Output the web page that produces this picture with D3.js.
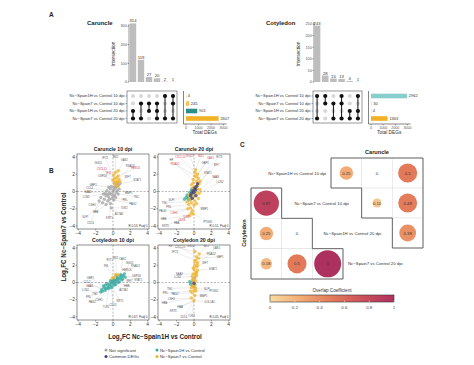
<!DOCTYPE html>
<html><head><meta charset="utf-8">
<script src="https://cdn.jsdelivr.net/npm/d3@7"></script>
<style>body{margin:0;background:#fff}svg{display:block;font-family:"Liberation Sans",Arial,sans-serif}</style>
</head><body><svg id="c" width="474" height="365"></svg>
<script>
// ================= DATA =================
const setNames = ["Nc\u2212Spain1H vs Control 10 dpi","Nc\u2212Spain7 vs Control 10 dpi","Nc\u2212Spain1H vs Control 20 dpi","Nc\u2212Spain7 vs Control 20 dpi"];
// Panel A – UpSet
const caruncleIntersections = [314,119,27,20,2,1];
const caruncleMembership = [[0,0,1,1],[0,1,0,1],[0,1,1,0],[0,1,1,1],[1,0,0,1],[1,1,0,1]];
const caruncleTotals = [4,245,901,2607];
const cotyledonIntersections = [243,28,15,13,4,1];
const cotyledonMembership = [[1,0,0,1],[1,1,0,0],[0,1,0,1],[1,1,0,1],[0,0,1,1],[1,0,1,1]];
const cotyledonTotals = [2962,30,4,1363];
const caruncleIntersectTicks = [0,100,200,300];
const cotyledonIntersectTicks = [0,50,100,150,200,250];
const degTicks = [0,1000,2000,3000];
// Panel B – scatter (x = log2FC Spain1H, y = log2FC Spain7, cat: 0 ns, 1 Spain1H, 2 common, 3 Spain7)
const scatterTitles = ["Caruncle 10 dpi","Caruncle 20 dpi","Cotyledon 10 dpi","Cotyledon 20 dpi"];
const scatterStats = ["R 0.53, Padj 0","R 0.51, Padj 0","R 0.67, Padj 0","R 0.45, Padj 0"];
const axisTicks = [-4,-2,0,2,4];
const car10Points = [
 [-0.2,-0.3,0],[0.1,0.2,0],[-0.5,-0.6,0],[0.3,0.4,0],[-0.8,-0.5,0],[0.5,0.1,0],[-0.3,0.3,0],[0.2,-0.4,0],[-1.0,-0.9,0],[0.6,0.7,0],
 [-0.6,-1.1,0],[0,0,0],[-0.4,-0.2,0],[0.4,0.6,0],[-0.1,-0.8,0],[0.2,0.9,0],[-0.9,-0.2,0],[0.7,0.3,0],[-1.2,-1.3,0],[-0.3,-1.4,0],
 [0.1,-1.0,0],[-0.7,0.1,0],[0.4,-0.1,0],[-0.2,0.6,0],[-1.4,-0.7,0],[0.8,0.9,0],[-0.5,0.5,0],[0.0,-0.5,0],[-0.8,-1.5,0],[0.3,-0.7,0],
 [-1.1,-0.3,0],[0.5,1.0,0],[-0.2,-1.9,0],[0.6,-0.3,0],[-1.6,-1.1,0],[-0.6,-0.3,0],[0.1,0.5,0],[-0.4,-0.9,0],
 [0.3,0.8,3],[0.5,1.2,3],[0.2,1.5,3],[0.6,1.8,3],[0.4,1.0,3],[0.1,1.9,3],[0.7,1.4,3],[0.3,2.2,3],[0.5,0.6,3],[0.2,1.1,3],
 [0.8,1.1,3],[0.4,1.6,3],[0.0,1.3,3],[0.6,2.4,3]];
const car20Points = [
 [0.2,2.5,3],[0.4,2.0,3],[0.1,1.8,3],[0.5,1.5,3],[0.3,1.2,3],[-0.1,1.0,3],[0.6,0.9,3],[0.2,0.6,3],[-0.2,0.4,3],[0.4,0.3,3],
 [0.0,0.1,3],[-0.4,-0.2,3],[0.3,-0.4,3],[-0.1,-0.7,3],[-0.5,-0.9,3],[0.1,-1.1,3],[-0.3,-1.3,3],[-0.6,-1.5,3],[0.0,-1.6,3],[-0.4,-1.9,3],
 [-0.2,-2.2,3],[-0.7,-2.0,3],[-0.1,-2.6,3],[-0.5,-2.8,3],[0.5,-0.8,3],[0.7,0.2,3],[0.6,-0.2,3],[-0.3,0.8,3],[0.3,1.7,3],[-0.8,-1.2,3],
 [0.2,-0.1,3],[-0.2,-0.4,3],[0.4,0.7,3],[0.7,1.2,3],[-0.6,-0.5,3],[0.1,2.2,3],[-0.3,-2.5,3],[0.3,-1.4,3],[0.5,1.0,3],[-0.1,1.4,3],
 [-0.6,-0.5,1],[-0.4,-0.3,1],[-0.7,-0.8,1],[-0.3,-0.6,1],[-0.5,-0.1,1],[-0.2,0.0,1],[-0.8,-0.4,1],[-0.4,-0.9,1],[-0.1,-0.3,1],[-0.6,-1.0,1],
 [-0.9,-0.7,1],[0.0,0.3,1],[-0.3,0.2,1],[-1.1,-0.9,1],
 [-0.3,-0.2,2],[-0.1,0.1,2],[0.1,0.4,2],[-0.4,-0.5,2],[0.2,0.2,2],[0.0,-0.1,2],[0.3,0.6,2],[-0.2,-0.8,2],[0.2,-0.5,2],[0.4,0.9,2],
 [0.1,0.0,0],[-0.1,-0.2,0],[0.2,0.3,0],[0.0,0.5,0],[-0.2,0.2,0]];
const cot10Points = [
 [-1.3,-0.8,1],[-1.0,-0.6,1],[-0.8,-0.7,1],[-0.6,-0.3,1],[-0.4,-0.4,1],[-0.2,-0.1,1],[0,0,1],[0.2,0.1,1],[0.4,0.3,1],[0.6,0.4,1],
 [0.8,0.5,1],[1.0,0.7,1],[1.2,0.8,1],[-1.1,-0.4,1],[-0.7,-0.1,1],[-0.3,0.2,1],[0.1,0.4,1],[0.5,0.6,1],[0.9,0.9,1],[1.3,1.0,1],
 [-0.9,-0.9,1],[-0.5,-0.7,1],[-0.1,-0.4,1],[0.3,-0.2,1],[0.7,0.1,1],[1.1,0.4,1],[-1.4,-1.1,1],[0.0,0.3,1],[0.4,0.8,1],[-0.6,-0.6,1],
 [0.6,0.0,1],[-0.2,-0.6,1],[0.8,0.8,1],[1.4,0.6,1],[-0.9,-0.3,1],[0.2,-0.3,1],[1.0,0.3,1],[-1.2,-1.0,1],
 [0.1,0.6,3],[0.3,0.9,3],[-0.1,0.5,3],[0.6,0.9,3],
 [-0.2,0.1,0],[0.1,-0.1,0],[0.3,0.2,0],[-0.4,-0.2,0],[0.5,0.4,0],[0,0.2,0]];
const cot20Points = [
 [0.3,3.0,3],[0.2,2.6,3],[0.4,2.3,3],[0.1,2.0,3],[0.3,1.8,3],[0.0,1.5,3],[0.2,1.2,3],[-0.1,1.0,3],[0.3,0.8,3],[0.0,0.5,3],
 [-0.2,0.3,3],[0.2,0.2,3],[-0.1,-0.1,3],[0.1,-0.4,3],[-0.3,-0.6,3],[0.0,-0.9,3],[-0.2,-1.2,3],[0.1,-1.5,3],[-0.3,-1.8,3],[0.0,-2.1,3],
 [0.4,1.4,3],[-0.2,0.7,3],[0.5,2.8,3],[0.2,-0.7,3],[-0.4,-1.0,3],[0.6,3.3,3],[0.1,3.6,3],[0.3,1.1,3],[-0.1,1.7,3],[0.2,-1.0,3],
 [0.1,2.4,3],[0.4,2.0,3],[-0.2,-0.4,3],[0.2,0.9,3],
 [0.0,0.1,0],[-0.1,0.3,0],[0.1,-0.2,0],[-0.2,-0.3,0],[0.1,0.6,0],[0.0,-0.5,0],[-0.3,0.0,0],
 [-0.4,-0.2,1],[-0.5,0.1,1],[0.0,-0.1,2]];
// labelled genes: [labelX, labelY, geneX, geneY, name, highlighted]
const car10Labels = [
 [-0.9,3.9,0.1,1.6,"IFIT1",0],[0.3,4.0,0.3,2.2,"MX2",0],[1.3,3.6,0.6,2.4,"OAS2",0],[-1.7,3.3,0.0,1.3,"ISG15",0],
 [2.0,3.0,0.7,1.4,"RSAD2",0],[-1.3,2.6,0.2,1.5,"CXCL10",1],[-0.5,2.1,0.1,1.9,"IFI6",1],[2.6,2.7,0.6,1.8,"HERC6",1],
 [-1.2,1.8,0.0,1.3,"USP18",0],[1.7,1.7,0.8,1.1,"IRF7",0],[2.8,1.3,0.8,0.9,"STAT1",0],[-2.3,0.8,-0.5,0.5,"GBP1",0],
 [-2.7,0.4,-0.7,0.1,"CCL2",0],[-2.9,-0.1,-0.9,-0.2,"SAA3",0],[-3.1,-0.6,-1.1,-0.3,"LCN2",0],[1.8,-0.2,0.7,0.3,"MMP1",0],
 [2.7,-0.6,0.6,-0.3,"TNC",0],[1.4,-1.0,0.3,-0.7,"PRL",0],[2.3,-1.4,0.1,-1.0,"PAG2",0],[-2.4,-1.6,-1.2,-1.3,"CSH1",0],
 [-2.0,-2.4,-0.8,-1.5,"HBB",0],[0.7,-2.6,-0.2,-1.9,"ACTA2",0],[-0.4,-3.1,-0.3,-1.4,"KRT5",0],[-2.6,-3.6,-1.6,-1.1,"CD14",0],
 [1.3,-1.9,-0.2,-1.9,"TLR2",0],[-3.2,-3.0,-1.2,-1.3,"SLPI",0]];
const car20Labels = [
 [-2.6,3.7,-0.2,1.4,"HP",0],[-1.6,3.95,0.1,2.2,"CXCL10",1],[-0.5,4.1,0.2,2.5,"ISG15",1],[0.8,4.1,0.2,2.5,"MX1",1],
 [1.9,3.9,0.4,2.0,"OAS1",1],[2.9,4.0,0.5,1.5,"IFIT3",0],[-2.2,3.2,0.1,1.8,"RSAD2",1],[1.3,3.3,0.3,1.7,"GBP1",0],
 [2.6,3.1,0.7,1.2,"IRF7",0],[1.6,2.2,0.6,0.9,"STAT1",0],[2.5,1.7,0.7,0.2,"SAA3",0],[3.0,1.1,0.6,-0.2,"LCN2",0],
 [-3.4,-1.3,-0.8,-1.2,"TNC",0],[-2.9,-1.8,-0.6,-1.5,"PRL",0],[-3.6,-2.3,-0.7,-2.0,"PAG2",0],[-2.3,-2.5,-0.4,-1.9,"CSH1",1],
 [-3.5,-3.2,-0.5,-2.8,"HBB",0],[-2.0,-3.7,-0.3,-2.5,"HBA",0],[-3.3,-4.0,-0.5,-2.8,"KRT5",0],[-1.4,-3.3,-0.1,-2.6,"CD14",1],
 [-0.9,-2.9,-0.2,-2.2,"TLR2",1],[-2.6,-1.0,-0.6,-0.5,"SLPI",0],[1.6,-3.5,-0.1,-2.6,"PTGS2",0],[1.2,-2.0,0.3,-1.4,"MMP1",0]];
const cot10Labels = [
 [-0.4,2.6,0.3,0.9,"IFIT1",0],[0.3,2.9,0.4,0.8,"MX2",0],[1.1,2.7,0.9,0.9,"OAS2",0],[1.9,2.3,1.2,0.8,"ISG15",0],
 [2.6,1.9,1.3,1.0,"RSAD2",0],[-0.8,1.9,0.1,0.6,"IFI6",0],[1.6,1.5,1.0,0.7,"HERC6",0],[2.7,0.8,1.4,0.6,"USP18",0],
 [1.9,0.2,1.1,0.4,"IRF7",0],[2.9,0.3,1.2,0.8,"STAT1",0],[-2.6,0.5,-1.1,-0.4,"GBP1",0],[-3.0,0.1,-1.3,-0.8,"CCL2",0],
 [-2.7,-0.4,-1.0,-0.6,"SAA3",0],[-3.2,-0.9,-1.4,-1.1,"LCN2",0],[-2.1,-1.3,-0.9,-0.9,"TNC",0],[-2.8,-1.7,-1.4,-1.1,"PRL",0],
 [-2.4,-2.3,-0.9,-0.9,"PAG2",0],[-1.6,-2.0,-0.5,-0.7,"CSH1",0],[1.6,-0.4,0.6,0.0,"HBB",0],[1.2,-0.9,0.3,-0.2,"ACTA2",0],
 [0.8,-2.2,-0.1,-0.4,"KRT5",0],[0.0,-2.6,-0.2,-0.6,"CD14",0],[-0.8,-2.8,-0.5,-0.7,"TLR2",0]];
const cot20Labels = [
 [-2.7,4.2,0.1,3.6,"HP",0],[-1.6,4.1,0.3,3.0,"CXCL10",0],[-0.4,4.25,0.6,3.3,"ISG15",0],[1.4,4.2,0.6,3.3,"MX1",0],
 [2.6,4.0,0.5,2.8,"OAS1",0],[-2.2,3.5,0.2,2.6,"IFIT3",0],[2.0,3.3,0.4,2.3,"RSAD2",0],[3.0,3.0,0.5,2.8,"GBP1",0],
 [1.3,2.3,0.3,1.8,"IRF7",0],[2.2,1.6,0.4,1.4,"STAT1",0],[-1.7,1.0,-0.1,1.0,"SAA3",0],[-1.9,0.6,-0.2,0.7,"LCN2",0],
 [-2.8,-0.7,-0.3,-0.6,"TNC",0],[-3.3,-1.2,-0.4,-1.0,"PRL",0],[-2.2,-1.3,-0.2,-1.2,"PAG2",0],[-2.6,-1.9,-0.3,-1.8,"CSH1",0],
 [-3.4,-2.4,-0.3,-1.8,"HBB",0],[-1.6,-2.8,0.0,-2.1,"HBA",0],[-2.4,-3.3,0.0,-2.1,"KRT5",0],[-1.2,-4.0,0.0,-2.1,"CD14",0],
 [-0.3,-3.9,0.0,-2.1,"TLR2",0],[1.5,-0.8,0.2,-0.7,"SLPI",0],[2.3,-1.0,0.2,-1.0,"PTGS2",0],[1.1,-1.6,0.1,-1.5,"MMP1",0],
 [1.8,-2.3,0.0,-2.1,"COL1A1",0]];
const legendLabels = ["Not significant","Nc\u2212Spain1H vs Control","Common DEGs","Nc\u2212Spain7 vs Control"];
// Panel C – overlap coefficients [rowSet, colSet, value]
const caruncleOverlap = [[0,1,0.25],[0,2,0],[0,3,0.5],[1,2,0.11],[1,3,0.49],[2,3,0.39]];
const cotyledonOverlap = [[1,0,0.87],[2,0,0.25],[2,1,0],[3,0,0.18],[3,1,0.5],[3,2,1]];
const overlapTicks = [0,0.2,0.4,0.6,0.8,1];

// ================= STYLE =================
const catColors = ["#a3a3a3","#35aba3","#3c3f80","#f2b227"];
const caruncleTotalColors = ["#f5c453","#f5c453","#2a8f88","#f2b227"];
const cotyledonTotalColors = ["#86cfcb","#86cfcb","#86cfcb","#f2b227"];
const ocColors = ["#f9dba3","#f2ab74","#e27a5a","#cc4f5b","#ad315e"];

const svg = d3.select("#c");
svg.append("rect").attr("width",474).attr("height",365).attr("fill","#fff");
function txt(g,x,y,s,size,opts={}){
  const t=g.append("text").attr("x",x).attr("y",y).attr("font-size",size).attr("fill",opts.fill||"#222")
   .attr("text-anchor",opts.anchor||"start").text(s);
  if(opts.bold) t.attr("font-weight","bold");
  if(opts.rotate) t.attr("transform",`rotate(-90,${x},${y})`);
  return t;
}

// ================= PANEL A =================
txt(svg,49,17,"A",6.5,{bold:true});
function upset(cfg){
  const g=svg.append("g");
  txt(g,cfg.titleX,25,cfg.title,6,{bold:true});
  const y=d3.scaleLinear().domain([0,cfg.yMax]).range([82,cfg.yTop]);
  const x=d3.scaleBand().domain(d3.range(cfg.inter.length)).range(cfg.colRange).paddingInner(0.2).paddingOuter(0.1);
  g.append("line").attr("x1",cfg.axisX).attr("x2",cfg.axisX).attr("y1",82).attr("y2",y(cfg.yMax)-2).attr("stroke","#333").attr("stroke-width",0.5);
  cfg.ticks.forEach(t=>{
    g.append("line").attr("x1",cfg.axisX-1.5).attr("x2",cfg.axisX).attr("y1",y(t)).attr("y2",y(t)).attr("stroke","#333").attr("stroke-width",0.5);
    txt(g,cfg.axisX-2.2,y(t)+1.4,String(t),3.8,{anchor:"end",fill:"#555"});
  });
  txt(g,cfg.axisX-14,54,"Intersection",4.8,{anchor:"middle",rotate:true,fill:"#333"});
  g.selectAll(".b").data(cfg.inter).join("rect").attr("x",(d,i)=>x(i)).attr("width",x.bandwidth())
   .attr("y",d=>y(d)).attr("height",d=>82-y(d)).attr("fill","#bdbdbd");
  cfg.inter.forEach((d,i)=>txt(g,x(i)+x.bandwidth()/2,y(d)-1,String(d),4.2,{anchor:"middle",fill:"#333"}));
  const ry=d3.scalePoint().domain(d3.range(4)).range([96,118.5]);
  g.append("rect").attr("x",cfg.boxX[0]).attr("y",91).attr("width",cfg.boxX[1]-cfg.boxX[0]).attr("height",32)
   .attr("fill","none").attr("stroke","#555").attr("stroke-width",0.6);
  setNames.forEach((s,r)=>{
    txt(g,cfg.boxX[0]-2.5,ry(r)+1.4,s,4.1,{anchor:"end",fill:"#333"});
    g.append("line").attr("x1",cfg.boxX[0]-1.5).attr("x2",cfg.boxX[0]).attr("y1",ry(r)).attr("y2",ry(r)).attr("stroke","#333").attr("stroke-width",0.4);
  });
  cfg.member.forEach((m,i)=>{
    const cx=x(i)+x.bandwidth()/2;
    const on=m.map((v,r)=>v?r:-1).filter(r=>r>=0);
    m.forEach((v,r)=>{ if(!v) g.append("circle").attr("cx",cx).attr("cy",ry(r)).attr("r",2.1).attr("fill","#d9d9d9"); });
    g.append("line").attr("x1",cx).attr("x2",cx).attr("y1",ry(d3.min(on))).attr("y2",ry(d3.max(on))).attr("stroke","#111").attr("stroke-width",1);
    on.forEach(r=>g.append("circle").attr("cx",cx).attr("cy",ry(r)).attr("r",2.1).attr("fill","#111"));
  });
  const xt=d3.scaleLinear().domain([0,3000]).range(cfg.degRange);
  const ax=cfg.degRange[0]-2.5;
  g.append("line").attr("x1",ax).attr("x2",ax).attr("y1",91).attr("y2",124).attr("stroke","#333").attr("stroke-width",0.6);
  g.append("line").attr("x1",ax).attr("x2",cfg.degRange[1]+3).attr("y1",124).attr("y2",124).attr("stroke","#333").attr("stroke-width",0.6);
  cfg.totals.forEach((v,r)=>{
    g.append("rect").attr("x",xt(0)).attr("y",ry(r)-2.3).attr("width",Math.max(0.3,xt(v)-xt(0))).attr("height",4.6).attr("fill",cfg.totColors[r]);
    txt(g,xt(v)+1.8,ry(r)+1.4,String(v),4,{fill:"#333"});
  });
  degTicks.forEach(t=>{
    g.append("line").attr("x1",xt(t)).attr("x2",xt(t)).attr("y1",124).attr("y2",125.5).attr("stroke","#333").attr("stroke-width",0.4);
    txt(g,xt(t),129,String(t),3.6,{anchor:"middle",fill:"#555"});
  });
  txt(g,(cfg.degRange[0]+cfg.degRange[1])/2,134,"Total DEGs",4.8,{anchor:"middle",fill:"#333"});
}
upset({title:"Caruncle",titleX:87,inter:caruncleIntersections,member:caruncleMembership,totals:caruncleTotals,totColors:caruncleTotalColors,
  yMax:300,yTop:26,ticks:caruncleIntersectTicks,axisX:129,colRange:[129,177],boxX:[127,177],degRange:[186,223.5]});
upset({title:"Cotyledon",titleX:266,inter:cotyledonIntersections,member:cotyledonMembership,totals:cotyledonTotals,totColors:cotyledonTotalColors,
  yMax:250,yTop:24,ticks:cotyledonIntersectTicks,axisX:314,colRange:[313,362],boxX:[313,362],degRange:[371,407.5]});

// ================= PANEL B =================
txt(svg,49,173,"B",6.5,{bold:true});
const panels=[
 {pts:car10Points,lab:car10Labels,x:[77,149],y:[154,229]},
 {pts:car20Points,lab:car20Labels,x:[158,230],y:[154,229]},
 {pts:cot10Points,lab:cot10Labels,x:[77,149],y:[245,320]},
 {pts:cot20Points,lab:cot20Labels,x:[158,230],y:[245,320]}];
panels.forEach((p,k)=>{
  const g=svg.append("g");
  const x=d3.scaleLinear().domain([-4.15,4.15]).range(p.x);
  const y=d3.scaleLinear().domain([-4.35,4.35]).range([p.y[1],p.y[0]]);
  g.append("rect").attr("x",p.x[0]).attr("y",p.y[0]).attr("width",p.x[1]-p.x[0]).attr("height",p.y[1]-p.y[0]).attr("fill","#fff");
  const clipId="clip"+k;
  g.append("clipPath").attr("id",clipId).append("rect").attr("x",p.x[0]).attr("y",p.y[0]).attr("width",p.x[1]-p.x[0]).attr("height",p.y[1]-p.y[0]);
  const inner=g.append("g").attr("clip-path",`url(#${clipId})`);
  inner.append("line").attr("x1",x(0)).attr("x2",x(0)).attr("y1",p.y[0]).attr("y2",p.y[1]).attr("stroke","#888").attr("stroke-width",0.6).attr("stroke-dasharray","2,1.5");
  inner.append("line").attr("x1",p.x[0]).attr("x2",p.x[1]).attr("y1",y(0)).attr("y2",y(0)).attr("stroke","#888").attr("stroke-width",0.6).attr("stroke-dasharray","2,1.5");
  inner.selectAll(".ll").data(p.lab).join("line").attr("x1",d=>x(d[0])).attr("y1",d=>y(d[1])).attr("x2",d=>x(d[2])).attr("y2",d=>y(d[3]))
    .attr("stroke","#bdbdbd").attr("stroke-width",0.3);
  const order=[0,1,3,2];
  order.forEach(c=>{
    inner.selectAll(".p"+c).data(p.pts.filter(d=>d[2]===c)).join("circle").attr("cx",d=>x(d[0])).attr("cy",d=>y(d[1]))
      .attr("r",1.7).attr("fill",catColors[c]).attr("fill-opacity",0.75);
  });
  inner.selectAll(".lt").data(p.lab).join("text").attr("x",d=>x(d[0])).attr("y",d=>y(d[1])+1).attr("font-size",2.7)
    .attr("text-anchor","middle").attr("fill",d=>d[5]?"#d23a5a":"#555").text(d=>d[4]);
  txt(inner,p.x[1]-1.5,p.y[1]-2,scatterStats[k],3,{anchor:"end",fill:"#333"});
  g.append("rect").attr("x",p.x[0]).attr("y",p.y[0]).attr("width",p.x[1]-p.x[0]).attr("height",p.y[1]-p.y[0])
   .attr("fill","none").attr("stroke","#444").attr("stroke-width",0.6);
  axisTicks.forEach(t=>{
    g.append("line").attr("x1",x(t)).attr("x2",x(t)).attr("y1",p.y[1]).attr("y2",p.y[1]+1.5).attr("stroke","#444").attr("stroke-width",0.5);
    txt(g,x(t),p.y[1]+6,d3.format("")(t),4.8,{anchor:"middle",fill:"#333"});
    g.append("line").attr("x1",p.x[0]-1.5).attr("x2",p.x[0]).attr("y1",y(t)).attr("y2",y(t)).attr("stroke","#444").attr("stroke-width",0.5);
    txt(g,p.x[0]-2,y(t)+1.7,d3.format("")(t),4.8,{anchor:"end",fill:"#333"});
  });
  txt(g,(p.x[0]+p.x[1])/2,p.y[0]-3,scatterTitles[k],5.2,{anchor:"middle",bold:true});
});
{
  const t=svg.append("text").attr("x",155).attr("y",339).attr("font-size",6.3).attr("font-weight","bold").attr("text-anchor","middle").attr("fill","#222");
  t.append("tspan").text("Log");t.append("tspan").attr("font-size",4).attr("dy",1.5).text("2");
  t.append("tspan").attr("dy",-1.5).text("FC Nc\u2212Spain1H vs Control");
  const t2=svg.append("text").attr("transform","translate(66,237) rotate(-90)").attr("font-size",6.3).attr("font-weight","bold").attr("text-anchor","middle").attr("fill","#222");
  t2.append("tspan").text("Log");t2.append("tspan").attr("font-size",4).attr("dy",1.5).text("2");
  t2.append("tspan").attr("dy",-1.5).text("FC Nc\u2212Spain7 vs Control");
}
[[106,351.5,0],[157,351.5,1],[106,358,2],[157,358,3]].forEach((l,i)=>{
  svg.append("circle").attr("cx",l[0]).attr("cy",l[1]-1.4).attr("r",1.5).attr("fill",catColors[l[2]]);
  txt(svg,l[0]+3,l[1],legendLabels[i],4.3,{fill:"#333"});
});

// ================= PANEL C =================
txt(svg,240,147,"C",6.5,{bold:true});
txt(svg,377,154,"Caruncle",5.6,{anchor:"middle",bold:true});
txt(svg,246,233,"Cotyledon",5.6,{anchor:"middle",bold:true,rotate:true});
const oc=d3.scaleLinear().domain([0,0.25,0.5,0.75,1]).range(ocColors);
const rs=d3.scaleSqrt().domain([0,1]).range([0,13.5]);
const gC=svg.append("g");
function matrix(data,xb,yb,outline){
  data.forEach(d=>{
    gC.append("rect").attr("x",xb(d[1])).attr("y",yb(d[0])).attr("width",xb.bandwidth()).attr("height",yb.bandwidth())
      .attr("fill","#fff").attr("stroke","#ddd").attr("stroke-width",0.5);
  });
  gC.append("path").attr("d",outline).attr("fill","none").attr("stroke","#555").attr("stroke-width",0.9);
  data.forEach(d=>{
    const cx=xb(d[1])+xb.bandwidth()/2, cy=yb(d[0])+yb.bandwidth()/2;
    if(d[2]>0) gC.append("circle").attr("cx",cx).attr("cy",cy).attr("r",rs(d[2])).attr("fill",oc(d[2]));
    txt(gC,cx,cy+1.5,String(d[2]),4.3,{anchor:"middle",fill:"#333"});
  });
}
const cxb=d3.scaleBand().domain([1,2,3]).range([331,423]);
const cyb=d3.scaleBand().domain([0,1,2]).range([158,248]);
const tyb=d3.scaleBand().domain([1,2,3]).range([188,279]);
const txb=d3.scaleBand().domain([0,1,2]).range([251,343]);
const carOutline=(()=>{const p=d3.path();const b=cxb.bandwidth(),h=cyb.bandwidth();
  p.moveTo(cxb(1),cyb(0));p.lineTo(cxb(3)+b,cyb(0));p.lineTo(cxb(3)+b,cyb(2)+h);p.lineTo(cxb(3),cyb(2)+h);p.lineTo(cxb(3),cyb(1)+h);
  p.lineTo(cxb(2),cyb(1)+h);p.lineTo(cxb(2),cyb(0)+h);p.lineTo(cxb(1),cyb(0)+h);p.closePath();return p.toString();})();
const cotOutline=(()=>{const p=d3.path();const b=txb.bandwidth(),h=tyb.bandwidth();
  p.moveTo(txb(0),tyb(1));p.lineTo(txb(0)+b,tyb(1));p.lineTo(txb(0)+b,tyb(2));p.lineTo(txb(1)+b,tyb(2));p.lineTo(txb(1)+b,tyb(3));
  p.lineTo(txb(2)+b,tyb(3));p.lineTo(txb(2)+b,tyb(3)+h);p.lineTo(txb(0),tyb(3)+h);p.closePath();return p.toString();})();
matrix(caruncleOverlap,cxb,cyb,carOutline);
matrix(cotyledonOverlap,txb,tyb,cotOutline);
txt(gC,cxb(1)-5,cyb(0)+cyb.bandwidth()/2+1.5,setNames[0],4.3,{anchor:"end",fill:"#333"});
txt(gC,(txb(0)+txb.bandwidth()+cxb(2))/2,tyb(1)+tyb.bandwidth()/2+1.5,setNames[1],4.3,{anchor:"middle",fill:"#333"});
txt(gC,(txb(1)+txb.bandwidth()+cxb(3))/2,tyb(2)+tyb.bandwidth()/2+1.5,setNames[2],4.3,{anchor:"middle",fill:"#333"});
txt(gC,txb(2)+txb.bandwidth()+5,tyb(3)+tyb.bandwidth()/2+1.5,setNames[3],4.3,{fill:"#333"});
const lx=d3.scaleLinear().domain([0,1]).range([270,394]);
const grad=svg.append("defs").append("linearGradient").attr("id","ocg");
ocColors.forEach((c,i)=>grad.append("stop").attr("offset",(i/(ocColors.length-1)*100)+"%").attr("stop-color",c));
txt(svg,lx(0.5),292,"Overlap Coefficient",4.6,{anchor:"middle",fill:"#333"});
svg.append("rect").attr("x",lx(0)).attr("y",295).attr("width",lx(1)-lx(0)).attr("height",7).attr("fill","url(#ocg)").attr("stroke","#333").attr("stroke-width",0.6);
overlapTicks.forEach(t=>{
  svg.append("line").attr("x1",lx(t)).attr("x2",lx(t)).attr("y1",300.5).attr("y2",302).attr("stroke","#fff").attr("stroke-width",0.5);
  txt(svg,lx(t),308.5,String(t),4.4,{anchor:"middle",fill:"#444"});
});
</script></body></html>
